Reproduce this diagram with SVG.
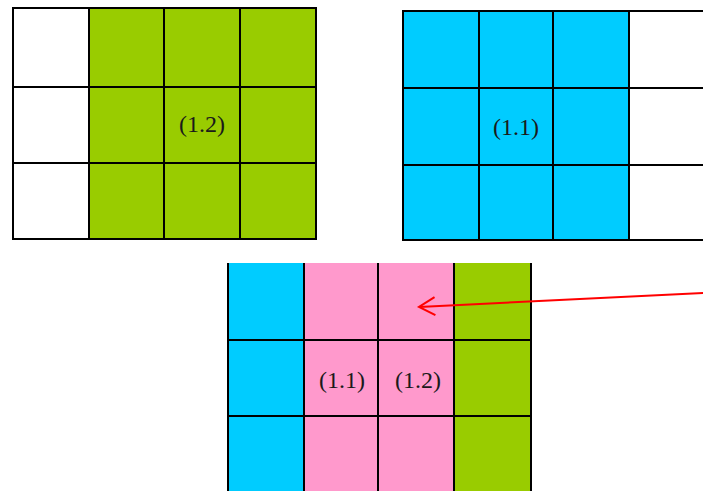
<svg xmlns="http://www.w3.org/2000/svg" width="703" height="491" viewBox="0 0 703 491">
<defs>
<style>
.g{fill:#99CC00}.c{fill:#00CCFF}.p{fill:#FF99CC}.w{fill:#FFFFFF}
.ln{stroke:#000;stroke-width:2;fill:none}
.t{font-family:"Liberation Serif",serif;font-size:24px;fill:#1a1a1a;text-anchor:middle}
</style>
<marker id="ah" markerWidth="20" markerHeight="20" refX="17" refY="10" orient="auto" markerUnits="userSpaceOnUse">
<path d="M1,1 L17,10 L1,19" fill="none" stroke="#FF0000" stroke-width="2"/>
</marker>
</defs>
<rect width="703" height="491" fill="#fff"/>
<g id="grid1">
<rect class="w" x="13" y="8" width="76" height="231"/>
<rect class="g" x="89" y="8" width="227" height="231"/>
<path class="ln" d="M13,8H316V239H13Z M89,8V239 M164,8V239 M240,8V239 M13,87H316 M13,163H316"/>
<text class="t" x="202" y="132">(1.2)</text>
</g>
<g id="grid2">
<rect class="c" x="403" y="11" width="226" height="229"/>
<rect class="w" x="629" y="11" width="80" height="229"/>
<path class="ln" d="M710,11H403V240H710 M479,11V240 M553,11V240 M629,11V240 M403,88H710 M403,165H710"/>
<text class="t" x="516" y="135">(1.1)</text>
</g>
<g id="grid3">
<rect class="c" x="228" y="263" width="76" height="235"/>
<rect class="p" x="304" y="263" width="150" height="235"/>
<rect class="g" x="454" y="263" width="77" height="235"/>
<path class="ln" d="M228,263V498 M304,263V498 M378,263V498 M454,263V498 M531,263V498 M228,340H531 M228,416H531"/>
<text class="t" x="342" y="388">(1.1)</text>
<text class="t" x="418" y="388">(1.2)</text>
</g>
<g id="connectors">
<line x1="710" y1="292.6" x2="419" y2="307" stroke="#FF0000" stroke-width="2" marker-end="url(#ah)"/>
</g>
</svg>
